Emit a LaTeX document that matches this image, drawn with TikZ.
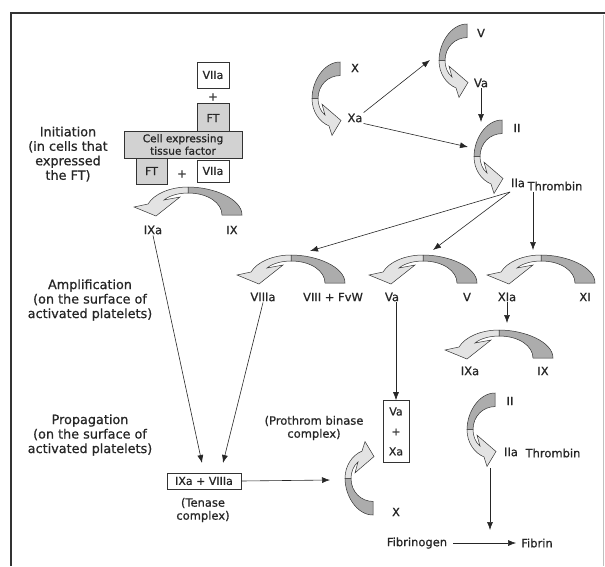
\documentclass[tikz,border=0pt]{standalone}
\usepackage{fontspec}
\setmainfont{DejaVu Sans}[RawFeature={embolden=0.8}]
\usetikzlibrary{arrows.meta}

% shaded reaction arrow (dark tail on the right, light head on the left)
\tikzset{
  hump/.pic={
    \filldraw[fill=gray!65,draw=black!80,line width=.5pt]
      (-4,-28) .. controls (22,-28) and (50,-16) .. (50,0) -- (30,0)
      .. controls (30,-12) and (16,-22) .. (-4,-22) -- cycle;
    \filldraw[fill=gray!22,draw=black!80,line width=.5pt]
      (-4,-28) .. controls (-22,-28) and (-38,-21) .. (-44,-11) -- (-58,-8)
      -- (-36,1) -- (-12,-18) -- (-28,-15)
      .. controls (-22,-20) and (-12,-22) .. (-4,-22) -- cycle;
  }
}

\begin{document}
\begin{tikzpicture}[x=1pt,y=-1pt,
  lbl/.style={font=\fontsize{11.5}{13}\selectfont,text=black!85,inner sep=1pt},
  region/.style={font=\fontsize{12.8}{14.5}\selectfont,align=center,text=black!85},
  wbox/.style={draw=black!80,fill=white,line width=.6pt,inner sep=0pt,text=black!85,
    font=\fontsize{11}{12}\selectfont},
  gbox/.style={wbox,fill=gray!35},
  arr/.style={-{Latex[length=8pt,width=6pt]},line width=.6pt,black!85}]
  \useasboundingbox (0,0) rectangle (605,566);
  \draw[line width=2.5pt,black!80] (11,566) -- (11,13) -- (605,13);
  \draw[line width=.4pt,black!25] (603,15) -- (603,566);

  % phase labels
  \node[region] (init) at (68,154) {Initiation\\(in cells that\\expressed\\the FT)};
  \node[region] (ampl) at (90,300) {Amplification\\(on the surface of\\activated platelets)};
  \node[region] (prop) at (90,435) {Propagation\\(on the surface of\\activated platelets)};

  % initiation
  \node[gbox,minimum width=32pt,minimum height=29pt] (FTtop) at (213,118) {FT};
  \node[gbox,minimum width=31pt,minimum height=26pt] (FTlow) at (151.5,171) {FT};
  \node[gbox,minimum width=118pt,minimum height=27pt,align=center,
    font=\fontsize{10.6}{12.5}\selectfont] (cell) at (183,144.5) {Cell expressing\\tissue factor};
  \node[wbox,minimum width=32pt,minimum height=26pt] (VIIa) at (213,75) {VIIa};
  \node[lbl] (plusA) at (213,97) {+};
  \node[lbl] (plusB) at (182,174) {+};
  \node[wbox,minimum width=32pt,minimum height=22pt] (VIIb) at (213,171) {VIIa};
  \pic at (192,215) {hump};
  \node[lbl] (IXa) at (153,230) {IXa};
  \node[lbl] (IX) at (232,230) {IX};

  % Xa, Va, thrombin
  \pic[rotate=90,xscale=.68] at (340,96) {hump};
  \pic[rotate=90,xscale=.68] at (467,58) {hump};
  \pic[rotate=90,xscale=.68] at (502,154) {hump};
  \node[lbl] (X) at (355,68) {X};
  \node[lbl] (Xa) at (355,118) {Xa};
  \node[lbl] (V) at (481,33) {V};
  \node[lbl] (Va) at (481,83) {Va};
  \node[lbl] (II) at (517,128) {II};
  \node[lbl] (IIa) at (518,183) {IIa};
  \node[lbl] (thr) at (555,186) {Thrombin};
  \coordinate (toV) at (430,60);
  \coordinate (toII) at (468,147);
  \coordinate (toIIv) at (481,122);
  \coordinate (th) at (510,192);
  \coordinate (thv) at (533,192);
  \draw[arr] (Xa.north east) -- (toV);
  \draw[arr] (Xa.south east) -- (toII);
  \draw[arr] (Va.south) -- (toIIv);

  % amplification
  \pic at (295,283) {hump};
  \pic at (427,283) {hump};
  \pic at (545,283) {hump};
  \pic at (503,358) {hump};
  \node[lbl] (VIIIa) at (263,297) {VIIIa};
  \node[lbl] (VIII) at (333,297) {VIII + FvW};
  \node[lbl] (Vab) at (392,297) {Va};
  \node[lbl] (Vb) at (467,297) {V};
  \node[lbl] (XIa) at (507,297) {XIa};
  \node[lbl] (XI) at (585,297) {XI};
  \node[lbl] (IXab) at (470,371) {IXa};
  \node[lbl] (IXb) at (543,371) {IX};
  \coordinate (toVIII) at (310,251);
  \coordinate (toVa) at (433,250);
  \coordinate (toXI) at (533,250);
  \coordinate (toIX) at (507,323);
  \draw[arr] (th) -- (toVIII);
  \draw[arr] (th) -- (toVa);
  \draw[arr] (thv) -- (toXI);
  \draw[arr] (XIa.south) -- (toIX);

  % propagation
  \node[wbox,minimum width=74pt,minimum height=16pt] (ten) at (204,481) {IXa + VIIIa};
  \node[lbl,align=center] (tenl) at (203,510) {(Tenase\\complex)};
  \node[wbox,minimum width=26pt,minimum height=62pt,align=center,
    font=\fontsize{11}{20}\selectfont] (VaXa) at (396,431.5) {Va\\+\\Xa};
  \node[lbl,align=center] (prol) at (314,428) {(Prothrom binase\\complex)};
  \pic[rotate=90,xscale=-.68] at (373,481) {hump};
  \node[lbl] (Xc) at (396,512) {X};
  \coordinate (toTenL) at (202,463);
  \coordinate (toTenR) at (223,463);
  \coordinate (toPro) at (330,480);
  \draw[arr] (IXa.south) -- (toTenL);
  \draw[arr] (VIIIa.south) -- (toTenR);
  \draw[arr] (ten.east) -- (toPro);
  \draw[arr] (Vab.south -| VaXa.north) -- (VaXa.north);

  % fibrin
  \pic[rotate=90,xscale=.68] at (495,427) {hump};
  \node[lbl] (IIc) at (510,401) {II};
  \node[lbl] (IIac) at (511,452) {IIa};
  \node[lbl] (thrc) at (553,453) {Thrombin};
  \node[lbl] (fbg) at (417,543) {Fibrinogen};
  \node[lbl] (fib) at (537,543) {Fibrin};
  \coordinate (fromIIa) at (490,468);
  \coordinate (toFbg) at (490,530);
  \draw[arr] (fromIIa) -- (toFbg);
  \draw[arr,shorten <=5pt,shorten >=4pt] (fbg.east) -- (fib.west);
\end{tikzpicture}
\end{document}
